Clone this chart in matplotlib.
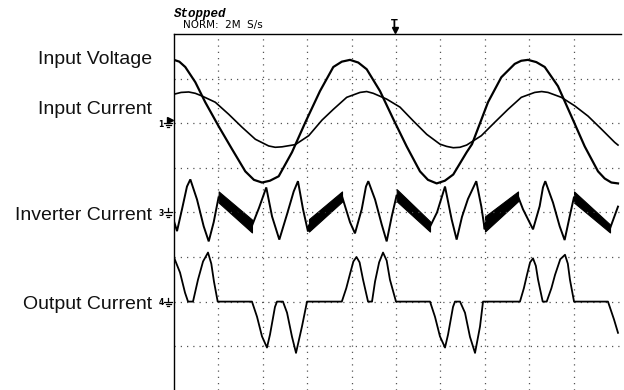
import matplotlib
matplotlib.use("Agg")
import matplotlib.pyplot as plt

matplotlib.rcParams["font.family"] = ["Liberation Sans", "DejaVu Sans"]

# time in ms (5 ms/div), amplitude in screen divisions relative to each channel ground
voltage_t = [0.0, 0.6, 1.27, 2.40, 3.52, 5.03, 6.53, 8.03, 9.0, 9.91, 10.8, 11.79, 13.29,
             14.79, 16.44, 17.94, 18.9, 19.82, 20.75, 21.70, 23.20, 24.70, 26.20, 27.70,
             28.6, 29.58, 30.5, 31.45, 32.96, 33.56, 35.36, 36.86, 38.37, 39.1, 39.86,
             40.8, 41.75, 43.24, 44.74, 46.25, 47.75, 48.5, 49.25, 50.0]
voltage_v = [1.42, 1.38, 1.26, 0.92, 0.47, -0.07, -0.58, -1.08, -1.27, -1.33, -1.29, -1.19,
             -0.65, 0.02, 0.72, 1.26, 1.38, 1.42, 1.36, 1.21, 0.72, 0.09, -0.52, -1.08,
             -1.27, -1.35, -1.29, -1.15, -0.65, -0.47, 0.47, 1.03, 1.33, 1.40, 1.42,
             1.37, 1.26, 0.83, 0.16, -0.52, -1.08, -1.24, -1.33, -1.35]

current_t = [0.0, 0.8, 1.66, 2.4, 3.15, 4.65, 6.16, 7.66, 9.16, 10.66, 11.4, 12.16, 13.66,
             15.17, 16.67, 17.94, 19.45, 20.95, 21.7, 22.44, 23.95, 25.45, 26.95, 28.46,
             29.95, 30.7, 31.45, 32.2, 32.96, 34.61, 36.12, 37.61, 39.11, 40.62, 41.4,
             42.12, 43.62, 45.12, 46.62, 48.12, 49.63, 50.0]
current_v = [0.65, 0.69, 0.70, 0.67, 0.61, 0.47, 0.20, -0.09, -0.36, -0.51, -0.54, -0.53,
             -0.48, -0.28, 0.07, 0.31, 0.58, 0.69, 0.71, 0.67, 0.54, 0.36, 0.05, -0.25,
             -0.47, -0.52, -0.55, -0.54, -0.49, -0.28, 0.02, 0.31, 0.58, 0.69, 0.71,
             0.69, 0.58, 0.39, 0.16, -0.13, -0.43, -0.49]

inverter_t = [0.0, 0.34, 0.9, 1.46, 1.84, 2.59, 3.34, 3.91, 4.47, 5.03,
              8.78, 9.57, 10.39, 11.04, 11.86, 12.73, 13.48, 13.96, 14.53, 15.09, 15.2,
              18.92, 19.82, 20.38, 21.14, 21.62, 21.88, 22.64, 23.39, 23.95, 24.52, 25.08,
              28.83, 29.62, 30.52, 31.27, 31.83, 32.43, 33.1, 34.04, 34.61, 34.99, 35.02,
              38.74, 39.3, 40.43, 41.18, 41.55, 41.81, 42.68, 43.43, 43.99, 44.56, 45.05,
              49.1, 50.0]
inverter_v = [-0.2, -0.42, 0.07, 0.58, 0.74, 0.29, -0.31, -0.65, -0.22, 0.35,
              -0.3, 0.1, 0.56, -0.09, -0.61, -0.04, 0.47, 0.70, 0.07, -0.43, -0.29,
              0.36, -0.22, -0.47, 0.07, 0.58, 0.70, 0.29, -0.27, -0.65, -0.09, 0.39,
              -0.32, 0.0, 0.58, -0.16, -0.61, -0.1, 0.3, 0.70, 0.13, -0.38, -0.26,
              0.36, 0.07, -0.38, 0.14, 0.56, 0.70, 0.22, -0.31, -0.62, -0.09, 0.35,
              -0.36, 0.13]

# switching ripple bands on the inverter current
ripple_start = [5.03, 15.2, 25.08, 35.02, 45.05]
ripple_end = [8.78, 18.92, 28.83, 38.74, 49.1]
ripple_hi_start = [0.47, -0.15, 0.52, -0.09, 0.47]
ripple_lo_start = [0.22, -0.43, 0.25, -0.43, 0.22]
ripple_hi_end = [-0.16, 0.47, -0.2, 0.47, -0.27]
ripple_lo_end = [-0.45, 0.24, -0.43, 0.25, -0.45]

output_t = [0.0, 0.68, 1.24, 1.58, 2.14, 2.7, 3.27, 3.83, 4.2, 4.5, 4.92,
            8.78, 9.35, 9.91, 10.47, 10.81, 11.37, 11.6, 12.27, 12.73, 13.29, 13.74, 14.41, 14.98,
            18.9, 19.4, 19.82, 20.2, 20.55, 20.9, 21.28, 21.85, 22.3, 22.64, 23.1, 23.54, 23.95, 24.32, 25.0,
            28.83, 29.39, 29.95, 30.52, 30.86, 31.42, 31.64, 32.21, 32.77, 33.33, 33.9, 34.46, 34.8,
            38.96, 39.4, 39.75, 40.1, 40.43, 40.75, 40.99, 41.52, 41.97, 42.5, 42.91, 43.5, 44.03, 44.35, 44.59, 45.05,
            48.87, 49.55, 50.0]
output_v = [0.99, 0.65, 0.2, 0.0, 0.0, 0.49, 0.9, 1.1, 0.85, 0.45, 0.0,
            0.0, -0.34, -0.78, -1.03, -0.74, -0.12, 0.0, 0.0, -0.25, -0.79, -1.15, -0.56, 0.0,
            0.0, 0.3, 0.62, 0.9, 1.0, 0.88, 0.5, 0.0, 0.0, 0.45, 0.88, 1.1, 0.92, 0.49, 0.0,
            0.0, -0.34, -0.78, -1.03, -0.74, -0.12, 0.0, 0.0, -0.25, -0.79, -1.15, -0.56, 0.0,
            0.0, 0.3, 0.6, 0.88, 0.97, 0.8, 0.5, 0.0, 0.0, 0.3, 0.6, 0.95, 1.05, 0.85, 0.49, 0.0,
            0.0, -0.4, -0.7]

trace_labels = ["Input Voltage", "Input Current", "Inverter Current", "Output Current"]
ground_div = [2, 2, 0, -2]          # channel ground levels on screen
marker_names = ["1", "3", "4"]
marker_ground = [2, 0, -2]

W, H = 624, 390
X0, Y0 = 174, 34          # screen top-left in pixels
PX_MS, PX_DIV = 8.88, 44.6

fig = plt.figure(figsize=(W / 100, H / 100), dpi=100)
ax = fig.add_axes([X0 / W, 0, 50.3 * PX_MS / W, (H - Y0) / H])
ax.set_xlim(0, 50.3)
ax.set_ylim(4 - (H - Y0) / PX_DIV, 4)
ax.set_xticks(range(5, 50, 5))
ax.set_yticks(range(-3, 4))
ax.tick_params(length=0, labelbottom=False, labelleft=False)
ax.grid(True, color="#555555", linestyle=(0, (1, 4)), linewidth=0.9)
for s in ("right", "bottom"):
    ax.spines[s].set_visible(False)
for s in ("left", "top"):
    ax.spines[s].set_linewidth(1.0)

g1, g2, g3, g4 = ground_div
ax.plot(voltage_t, [v + g1 for v in voltage_v], color="black", lw=1.6, solid_joinstyle="round")
ax.plot(current_t, [v + g2 for v in current_v], color="black", lw=1.2, solid_joinstyle="round")
ax.plot(inverter_t, [v + g3 for v in inverter_v], color="black", lw=1.4, solid_joinstyle="miter")
for t0, t1, h0, l0, h1, l1 in zip(ripple_start, ripple_end, ripple_hi_start,
                                  ripple_lo_start, ripple_hi_end, ripple_lo_end):
    ax.fill_between([t0, t1], [l0 + g3, l1 + g3], [h0 + g3, h1 + g3],
                    color="black", lw=0.8)
ax.plot(output_t, [v + g4 for v in output_v], color="black", lw=1.3, solid_joinstyle="round")

# overlay in pixel coordinates for labels and scope annotations
ann = fig.add_axes([0, 0, 1, 1], zorder=-1)
ann.set_xlim(0, W)
ann.set_ylim(H, 0)
ann.axis("off")

label_base = [64, 114, 220, 309]
for text, yb in zip(trace_labels, label_base):
    ann.text(152, yb, text, fontsize=14, ha="right", va="baseline", color="#111111")

for name, g in zip(marker_names, marker_ground):
    yg = Y0 + (4 - g) * PX_DIV
    ann.text(161, yg + 1, name, fontsize=5.5, ha="center", va="center",
             family="DejaVu Sans", weight="bold")
    ann.plot([164, 172], [yg, yg], color="black", lw=0.9)
    ann.plot([165.5, 170.5], [yg + 2.2, yg + 2.2], color="black", lw=0.9)
    ann.plot([166.8, 169.2], [yg + 4.2, yg + 4.2], color="black", lw=0.9)
    ann.plot([168, 168], [yg - 4, yg], color="black", lw=0.9)
ann.plot([170], [Y0 + 2 * PX_DIV - 3], marker=">", color="black", ms=4)

ann.text(174, 17, "Stopped", family="Liberation Mono", style="italic",
         weight="bold", fontsize=9, va="baseline")
ann.text(183, 28, "NORM:  2M  S/s", family="DejaVu Sans", fontsize=7.5, va="baseline")
ann.text(394, 27, "T", family="DejaVu Sans", fontsize=7, weight="bold",
         ha="center", va="baseline")
ann.plot([395], [30], marker="v", color="black", ms=5)
ann.text(548, 51, "5ms/div", family="DejaVu Sans", fontsize=8, va="baseline")

fig.savefig("out.png", dpi=100)
